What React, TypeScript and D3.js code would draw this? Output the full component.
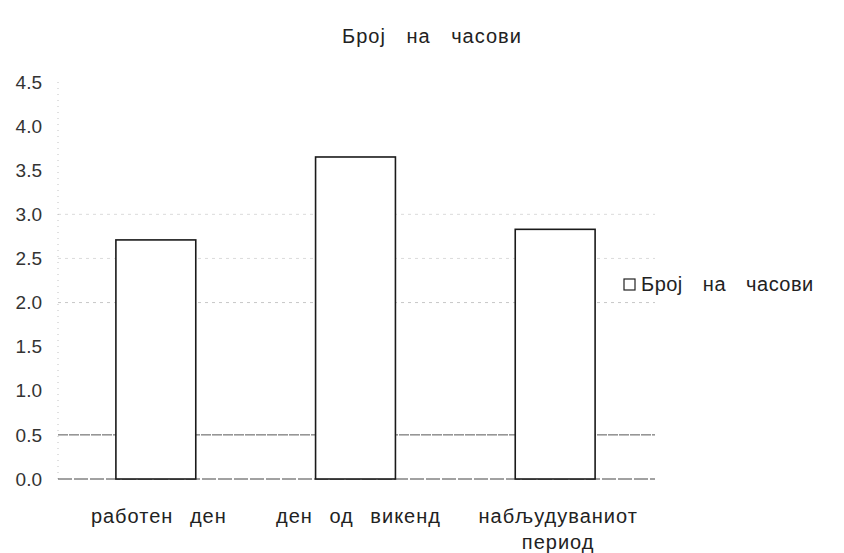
import * as React from 'react';
import * as d3 from 'd3';

const categories = ['работен ден', 'ден од викенд', 'набљудуваниот период'];
const hours = [2.71, 3.65, 2.83];
const yTicks = [0, 0.5, 1, 1.5, 2, 2.5, 3, 3.5, 4, 4.5];
const gridValues = [0.5, 2, 2.5, 3];
const title = 'Број на часови';
const seriesName = 'Број на часови';

const dimensions = { width: 844, height: 553 };
const margin = { top: 82, left: 56, right: 189, bottom: 74 };

const font = "'Liberation Sans', Arial, sans-serif";

const App: React.FC = () => {
  const x = d3
    .scaleBand<string>()
    .domain(categories)
    .range([margin.left, dimensions.width - margin.right])
    .paddingInner(0.6)
    .paddingOuter(0.3);
  const y = d3
    .scaleLinear()
    .domain([0, 4.5])
    .range([dimensions.height - margin.bottom, margin.top]);

  const x0 = margin.left + 2;
  const x1 = dimensions.width - margin.right;

  const splitLabel = (s: string) => {
    if (s === 'набљудуваниот период') return ['набљудуваниот', 'период'];
    return [s];
  };

  return (
    <svg
      width={dimensions.width}
      height={dimensions.height}
      viewBox={`0 0 ${dimensions.width} ${dimensions.height}`}
      style={{ position: 'absolute', left: 0, top: 0, background: '#fff' }}
      fontFamily={font}
    >
      <text
        x={432}
        y={43}
        textAnchor="middle"
        fontSize={20}
        letterSpacing={1}
        wordSpacing={14}
        fill="#222"
      >
        {title}
      </text>

      {/* faint gridlines */}
      {gridValues.map((v) => (
        <line
          key={v}
          x1={x0}
          x2={x1}
          y1={y(v)}
          y2={y(v)}
          stroke={v === 0.5 ? '#444' : '#999'}
          strokeOpacity={v === 0.5 ? 0.9 : v === 2 ? 0.55 : 0.35}
          strokeDasharray={v === 0.5 ? '10 1' : '3 4'}
        />
      ))}

      {/* y axis */}
      <line
        x1={x0}
        x2={x0}
        y1={y(4.5)}
        y2={y(0)}
        stroke="#999"
        strokeOpacity={0.6}
        strokeDasharray="1 5"
      />
      <line x1={x0} x2={x1} y1={y(0)} y2={y(0)} stroke="#444" strokeWidth={1} strokeDasharray="14 2" />
      {yTicks.map((t) => (
        <text
          key={t}
          x={42}
          y={y(t)}
          dy="0.35em"
          textAnchor="end"
          fontSize={19}
          fill="#333"
        >
          {t.toFixed(1)}
        </text>
      ))}

      {/* bars */}
      {categories.map((c, i) => (
        <rect
          key={c}
          x={x(c)}
          y={y(hours[i])}
          width={x.bandwidth()}
          height={y(0) - y(hours[i])}
          fill="#fff"
          stroke="#1a1a1a"
          strokeWidth={1.6}
        />
      ))}

      {/* x labels */}
      {categories.map((c) => {
        const cx = (x(c) ?? 0) + x.bandwidth() / 2 + 3;
        return (
          <text
            key={c}
            x={cx}
            y={y(0) + 44}
            textAnchor="middle"
            fontSize={20}
            letterSpacing={1}
            wordSpacing={10}
            fill="#222"
          >
            {splitLabel(c).map((line, k) => (
              <tspan key={k} x={cx} dy={k === 0 ? 0 : 26}>
                {line}
              </tspan>
            ))}
          </text>
        );
      })}

      {/* legend */}
      <rect x={624} y={279} width={11} height={11} fill="#fff" stroke="#222" strokeWidth={1.2} />
      <text x={641} y={291} fontSize={20} letterSpacing={0.5} wordSpacing={14} fill="#222">
        {seriesName}
      </text>
    </svg>
  );
};

export default App;
